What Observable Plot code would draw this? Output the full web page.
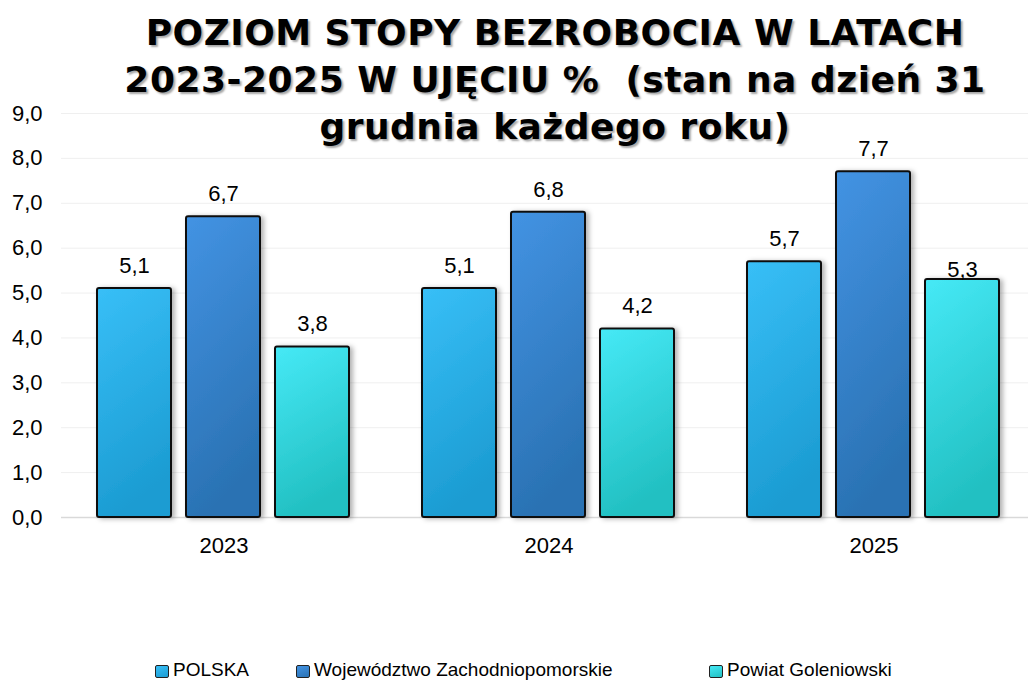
<!DOCTYPE html>
<html>
<head>
<meta charset="utf-8">
<script src="https://cdn.jsdelivr.net/npm/d3@7"></script>
<script src="https://cdn.jsdelivr.net/npm/@observablehq/plot@0.6"></script>
<style>
  html, body { margin: 0; padding: 0; background: #fff; }
  #wrap { position: relative; width: 1028px; height: 680px; overflow: hidden; }
  #title {
    position: absolute; top: 9px; left: 0; width: 1028px; padding-left: 82px; box-sizing: border-box;
    text-align: center; font-family: "DejaVu Sans", sans-serif; font-weight: bold; font-size: 36px;
    line-height: 47px; letter-spacing: 0.5px; color: #000; white-space: pre;
    text-shadow: 2px 2px 2px rgba(0,0,0,0.35); z-index: 2; pointer-events: none;
  }
  #title .line { display: block; width: fit-content; margin: 0 auto; height: 47px; }
  #chart { position: absolute; top: 0; left: 0; }
  .leg { position: absolute; top: 660px; height: 22px; font-family: "Liberation Sans", Arial, sans-serif;
         font-size: 19px; line-height: 20px; color: #000; white-space: nowrap; padding-left: 18px; }
  .leg .sw { position: absolute; left: 0; top: 5px; width: 12px; height: 11px; border: 1.5px solid #222; border-radius: 2px; }
</style>
</head>
<body>
<div id="wrap">
  <div id="title"></div>
  <div id="chart"></div>
  <div id="legend"></div>
</div>
<script>
// ---- data ----
const titleLines = ["POZIOM STOPY BEZROBOCIA W LATACH", "2023-2025 W UJĘCIU %  (stan na dzień 31", "grudnia każdego roku)"];
const years = ["2023", "2024", "2025"];
const series = ["POLSKA", "Województwo Zachodniopomorskie", "Powiat Goleniowski"];
const polska = [5.1, 5.1, 5.7];
const zachodniopomorskie = [6.7, 6.8, 7.7];
const goleniowski = [3.8, 4.2, 5.3];
const yTicks = [0, 1, 2, 3, 4, 5, 6, 7, 8, 9];

// ---- build table ----
const seriesValues = [polska, zachodniopomorskie, goleniowski];
const data = [];
years.forEach((y, i) => series.forEach((s, j) => data.push({year: y, series: s, value: seriesValues[j][i]})));

const fmt = v => v.toFixed(1).replace(".", ",");
const gradIds = ["gPol", "gWoj", "gPow"];
const gradStops = [["#38bff7", "#1c9cd2"], ["#4393e3", "#2a72b3"], ["#46e9f6", "#22c0c2"]];

const titleEl = document.getElementById("title");
titleLines.forEach(t => {
  const s = document.createElement("span");
  s.className = "line";
  s.textContent = t;
  titleEl.appendChild(s);
});

const isOverlap = d => d.year === "2025" && d.series === "Powiat Goleniowski";

const plot = Plot.plot({
  width: 1028,
  height: 560,
  marginTop: 113,
  marginBottom: 43,
  marginLeft: 60,
  marginRight: 0,
  style: {fontFamily: "'Liberation Sans', Arial, sans-serif", fontSize: "22px", color: "#000", background: "transparent", overflow: "visible"},
  fx: {domain: years, range: [60, 1037], padding: 0, label: null},
  x: {domain: series, paddingInner: 0.167, paddingOuter: 0.393, axis: null},
  y: {domain: [0, 9], label: null},
  color: {domain: series, range: gradIds.map(id => `url(#${id})`)},
  marks: [
    Plot.ruleY(yTicks, {stroke: "#efefef", strokeWidth: 1}),
    Plot.ruleY([0], {stroke: "#d9d9d9", strokeWidth: 1.5}),
    Plot.axisY({ticks: yTicks, tickSize: 0, tickPadding: 19, tickFormat: fmt, label: null}),
    Plot.axisFx({anchor: "bottom", tickSize: 0, tickPadding: 20, label: null}),
    Plot.barY(data, {fx: "year", x: "series", y: "value", fill: "series", stroke: "#111", strokeWidth: 2, rx: 2}),
    Plot.text(data.filter(d => !isOverlap(d)), {fx: "year", x: "series", y: "value", text: d => fmt(d.value), lineAnchor: "bottom", dy: -15.5, fill: "#000"}),
    Plot.text(data.filter(isOverlap), {fx: "year", x: "series", y: "value", text: d => fmt(d.value), lineAnchor: "bottom", dy: -3, fill: "#000"})
  ]
});

// gradients + shadow
const ns = "http://www.w3.org/2000/svg";
const defs = document.createElementNS(ns, "defs");
gradIds.forEach((id, k) => {
  const g = document.createElementNS(ns, "linearGradient");
  g.setAttribute("id", id);
  g.setAttribute("x1", "0"); g.setAttribute("y1", "0"); g.setAttribute("x2", "0.25"); g.setAttribute("y2", "1");
  [[0, gradStops[k][0]], [1, gradStops[k][1]]].forEach(([o, c]) => {
    const st = document.createElementNS(ns, "stop");
    st.setAttribute("offset", o); st.setAttribute("stop-color", c);
    g.appendChild(st);
  });
  defs.appendChild(g);
});
const f = document.createElementNS(ns, "filter");
f.setAttribute("id", "shadow");
f.setAttribute("x", "-20%"); f.setAttribute("y", "-10%"); f.setAttribute("width", "140%"); f.setAttribute("height", "120%");
const ds = document.createElementNS(ns, "feDropShadow");
ds.setAttribute("dx", "3"); ds.setAttribute("dy", "1"); ds.setAttribute("stdDeviation", "2.5");
ds.setAttribute("flood-color", "#000"); ds.setAttribute("flood-opacity", "0.3");
f.appendChild(ds);
defs.appendChild(f);
plot.insertBefore(defs, plot.firstChild);
plot.querySelectorAll("g[aria-label='bar'] rect").forEach(r => r.setAttribute("filter", "url(#shadow)"));

document.getElementById("chart").appendChild(plot);

// legend
const legLeft = [155, 296, 709];
const legend = document.getElementById("legend");
series.forEach((s, k) => {
  const item = document.createElement("div");
  item.className = "leg";
  item.style.left = legLeft[k] + "px";
  const sw = document.createElement("span");
  sw.className = "sw";
  sw.style.background = `linear-gradient(160deg, ${gradStops[k][0]}, ${gradStops[k][1]})`;
  item.appendChild(sw);
  item.appendChild(document.createTextNode(s));
  legend.appendChild(item);
});
</script>
</body>
</html>
